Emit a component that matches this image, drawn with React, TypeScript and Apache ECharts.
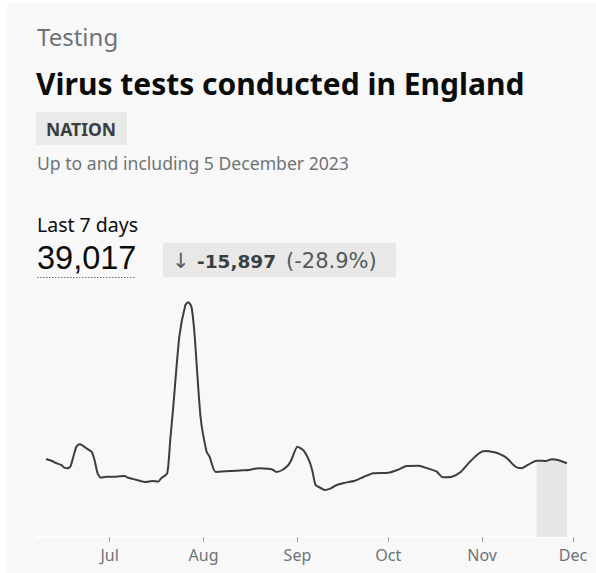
import React, { useEffect, useRef } from "react";
import * as echarts from "echarts";

const dates: string[] = [
  "2023-06-10", "2023-06-12", "2023-06-13", "2023-06-15", "2023-06-16", "2023-06-17", "2023-06-18",
  "2023-06-19", "2023-06-20", "2023-06-21", "2023-06-22", "2023-06-23", "2023-06-25", "2023-06-26",
  "2023-06-27", "2023-06-28", "2023-06-30", "2023-07-03", "2023-07-06", "2023-07-07", "2023-07-10",
  "2023-07-13", "2023-07-15", "2023-07-17", "2023-07-18", "2023-07-20", "2023-07-21", "2023-07-22",
  "2023-07-24", "2023-07-26", "2023-07-27", "2023-07-28", "2023-07-29", "2023-07-31", "2023-08-02",
  "2023-08-03", "2023-08-05", "2023-08-10", "2023-08-14", "2023-08-16", "2023-08-19", "2023-08-23",
  "2023-08-24", "2023-08-25", "2023-08-27", "2023-08-29", "2023-08-30", "2023-09-01", "2023-09-03",
  "2023-09-05", "2023-09-06", "2023-09-07", "2023-09-09", "2023-09-10", "2023-09-12", "2023-09-14",
  "2023-09-16", "2023-09-20", "2023-09-23", "2023-09-26", "2023-10-01", "2023-10-04", "2023-10-07",
  "2023-10-11", "2023-10-14", "2023-10-17", "2023-10-19", "2023-10-22", "2023-10-25", "2023-10-28",
  "2023-10-31", "2023-11-02", "2023-11-05", "2023-11-07", "2023-11-09", "2023-11-12", "2023-11-14",
  "2023-11-16", "2023-11-19", "2023-11-22", "2023-11-24", "2023-11-26", "2023-11-29",
];

const tests: number[] = [
  5850, 5700, 5570, 5400, 5200, 5150, 5270,
  6020, 6770, 6950, 6880, 6700, 6400, 5775,
  4780, 4450, 4520, 4520, 4575, 4450, 4275,
  4125, 4200, 4150, 4400, 4780, 7275, 9775,
  15020, 17400, 17600, 17270, 15280, 9020, 6400,
  6020, 4875, 4950, 5000, 5025, 5150, 5100,
  5025, 4875, 5025, 5400, 5775, 6770, 6490,
  5660, 4900, 3900, 3640, 3525, 3650, 3900,
  4030, 4220, 4520, 4780, 4820, 5025, 5325,
  5350, 5150, 4900, 4480, 4520, 4900, 5650,
  6280, 6450, 6350, 6200, 5950, 5270, 5150,
  5400, 5720, 5700, 5830, 5775, 5530,
];

const incompleteFrom = "2023-11-19";
const tickMonths: string[] = ["2023-07-01", "2023-08-01", "2023-09-01", "2023-10-01", "2023-11-01", "2023-12-01"];
const tickLabels: string[] = ["Jul", "Aug", "Sep", "Oct", "Nov", "Dec"];
const axisStart = "2023-06-07";
const axisEnd = "2023-12-01";

const headline = "39,017";
const change = "-15,897";
const changePct = "(-28.9%)";

const ts = (d: string) => Date.parse(d + "T00:00:00Z");

export default function App() {
  const ref = useRef<HTMLDivElement>(null);

  useEffect(() => {
    if (!ref.current) return;
    const chart = echarts.init(ref.current, null, { renderer: "svg" });
    const mainData = dates.map((d, i) => [ts(d), tests[i]]);
    const shadeData = dates
      .map((d, i) => [d, tests[i]] as [string, number])
      .filter((p) => p[0] >= incompleteFrom)
      .map((p) => [ts(p[0]), p[1]]);
    const tickValues = tickMonths.map(ts);

    const sans = "'Noto Sans', sans-serif";
    const arial = "'Liberation Sans', Arial, sans-serif";
    const dejavu = "'DejaVu Sans', sans-serif";

    chart.setOption({
      animation: false,
      backgroundColor: "#ffffff",
      graphic: [
        { type: "rect", z: -10, shape: { x: 7, y: 3, width: 589, height: 570 }, style: { fill: "#f8f8f8" } },
        { type: "text", x: 37, y: 36, style: { text: "Testing", font: `400 24px ${sans}`, fill: "#6f7377", verticalAlign: "middle" } },
        { type: "text", x: 36, y: 83, style: { text: "Virus tests conducted in England", font: `700 30px ${sans}`, fill: "#0b0c0c", verticalAlign: "middle" } },
        { type: "rect", shape: { x: 36, y: 112, width: 91, height: 33 }, style: { fill: "#eaeae8" } },
        { type: "text", x: 46, y: 128.5, style: { text: "NATION", font: `700 17.5px ${sans}`, fill: "#383f43", verticalAlign: "middle" } },
        { type: "text", x: 37, y: 163, style: { text: "Up to and including 5 December 2023", font: `400 17.6px ${sans}`, fill: "#6f7377", verticalAlign: "middle" } },
        { type: "text", x: 37, y: 224, style: { text: "Last 7 days", font: `400 19.5px ${sans}`, fill: "#0b0c0c", verticalAlign: "middle" } },
        { type: "text", x: 37, y: 258, style: { text: headline, font: `400 32.5px ${arial}`, fill: "#0b0c0c", verticalAlign: "middle" } },
        { type: "line", shape: { x1: 37, y1: 277.5, x2: 136, y2: 277.5 }, style: { stroke: "#6f7377", lineWidth: 1, lineDash: [1.5, 1.5] } },
        { type: "rect", shape: { x: 163, y: 243, width: 233, height: 34 }, style: { fill: "#e9e8e6" } },
        { type: "text", x: 172, y: 261, style: { text: "↓", font: `400 21px ${dejavu}`, fill: "#505a5f", verticalAlign: "middle" } },
        { type: "text", x: 197, y: 261, style: { text: change, font: `700 18.5px ${dejavu}`, fill: "#383f43", verticalAlign: "middle" } },
        { type: "text", x: 286, y: 261, style: { text: changePct, font: `400 21px ${dejavu}`, fill: "#505a5f", verticalAlign: "middle" } },
      ],
      grid: { left: 37, right: 23, top: 297, bottom: 36, containLabel: false },
      xAxis: {
        type: "value",
        min: ts(axisStart),
        max: ts(axisEnd),
        axisLine: { show: true, lineStyle: { color: "#ffffff", width: 2 } },
        axisTick: { show: true, customValues: tickValues, length: 5, lineStyle: { color: "#9aa0a4", width: 1 } },
        axisLabel: {
          show: true,
          customValues: tickValues,
          formatter: (v: number) => tickLabels[tickValues.indexOf(v)] ?? "",
          color: "#6f7377",
          fontSize: 16,
          fontFamily: "'Noto Sans', sans-serif",
          margin: 10,
        },
        splitLine: { show: false },
      },
      yAxis: { type: "value", min: 0, max: 18000, show: false, splitLine: { show: false } },
      series: [
        {
          type: "line",
          data: shadeData,
          symbol: "none",
          lineStyle: { width: 0, opacity: 0 },
          areaStyle: { color: "#e8e7e5", opacity: 1 },
          z: 1,
          silent: true,
        },
        {
          type: "line",
          data: mainData,
          symbol: "none",
          smooth: 0.2,
          lineStyle: { color: "#383e42", width: 2 },
          z: 2,
        },
      ],
    });
    return () => chart.dispose();
  }, []);

  return (
    <div
      ref={ref}
      style={{ position: "fixed", left: 0, top: 0, width: 596, height: 573 }}
    />
  );
}
